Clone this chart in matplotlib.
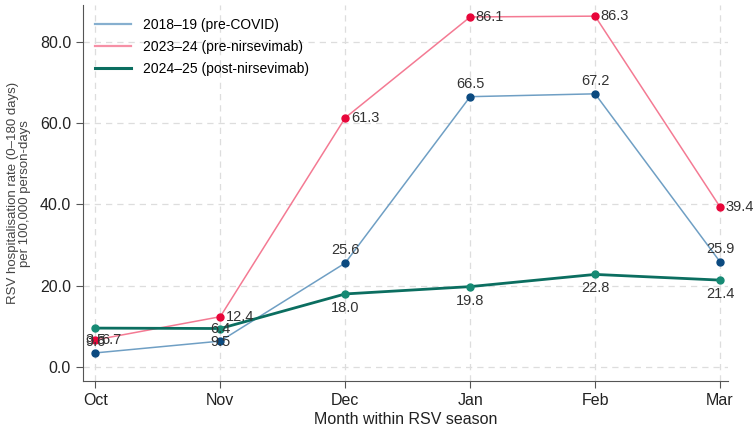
import matplotlib.pyplot as plt
from matplotlib.lines import Line2D

plt.rcParams['font.family'] = ['Liberation Sans', 'DejaVu Sans']

# --- data ---
months = ['Oct', 'Nov', 'Dec', 'Jan', 'Feb', 'Mar']
rate_1819 = [3.5, 6.4, 25.6, 66.5, 67.2, 25.9]
rate_2324 = [6.7, 12.4, 61.3, 86.1, 86.3, 39.4]
rate_2425 = [9.6, 9.5, 18.0, 19.8, 22.8, 21.4]
series_names = ['2018\u201319 (pre-COVID)', '2023\u201324 (pre-nirsevimab)',
                '2024\u201325 (post-nirsevimab)']
y_ticks = [0, 20, 40, 60, 80]

x = list(range(len(months)))

fig = plt.figure(figsize=(7.53, 4.30), dpi=100)
ax = fig.add_axes([0.110, 0.114, 0.857, 0.874])

ax.plot(x, rate_1819, '-', color='#6f9fc4', lw=1.1,
        marker='o', ms=5, mfc='#0b4a80', mec='#0b4a80')
ax.plot(x, rate_2324, '-', color='#f47a93', lw=1.1,
        marker='o', ms=5, mfc='#e8063a', mec='#e8063a')
ax.plot(x, rate_2425, '-', color='#0b6e60', lw=2.0,
        marker='o', ms=5, mfc='#168a74', mec='#168a74')

lab_col = '#333333'
for xi, v in zip(x, rate_1819):
    ax.annotate(f'{v:.1f}', (xi, v), xytext=(0, 4), textcoords='offset points',
                ha='center', va='bottom', fontsize=10.5, color=lab_col)
for xi, v in zip(x, rate_2324):
    ax.annotate(f'{v:.1f}', (xi, v), xytext=(4, 0), textcoords='offset points',
                ha='left', va='center', fontsize=10.5, color=lab_col)
for xi, v in zip(x, rate_2425):
    ax.annotate(f'{v:.1f}', (xi, v), xytext=(0, -5), textcoords='offset points',
                ha='center', va='top', fontsize=10.5, color=lab_col)

ax.set_xlim(-0.1, 5.065)
ax.set_ylim(-3.4, 89)
ax.set_xticks(x)
ax.set_xticklabels(months)
ax.set_yticks(y_ticks)
ax.set_yticklabels([f'{t:.1f}' for t in y_ticks])

ax.grid(True, ls=(0, (5, 4)), color='#dddddd', lw=0.9)
ax.set_axisbelow(True)
for s in ['top', 'right']:
    ax.spines[s].set_visible(False)
for s in ['left', 'bottom']:
    ax.spines[s].set_color('#555555')
ax.tick_params(colors='#555555', labelcolor='#222222', labelsize=11.5, length=5)

ax.set_xlabel('Month within RSV season', fontsize=11.5, color='#222222', labelpad=3)
ax.set_ylabel('RSV hospitalisation rate (0\u2013180 days)\nper 100,000 person-days',
              fontsize=9.5, color='#444444', labelpad=6, linespacing=1.0)

# legend shows plain lines only
handles = [Line2D([], [], color='#86afcf', lw=1.6),
           Line2D([], [], color='#f690a6', lw=1.6),
           Line2D([], [], color='#0b6e60', lw=2.2)]
ax.legend(handles, series_names, loc='upper left', frameon=False, fontsize=10,
          handlelength=2.6, bbox_to_anchor=(0.0, 1.0), labelspacing=0.6)

fig.savefig('out.png', dpi=100)
